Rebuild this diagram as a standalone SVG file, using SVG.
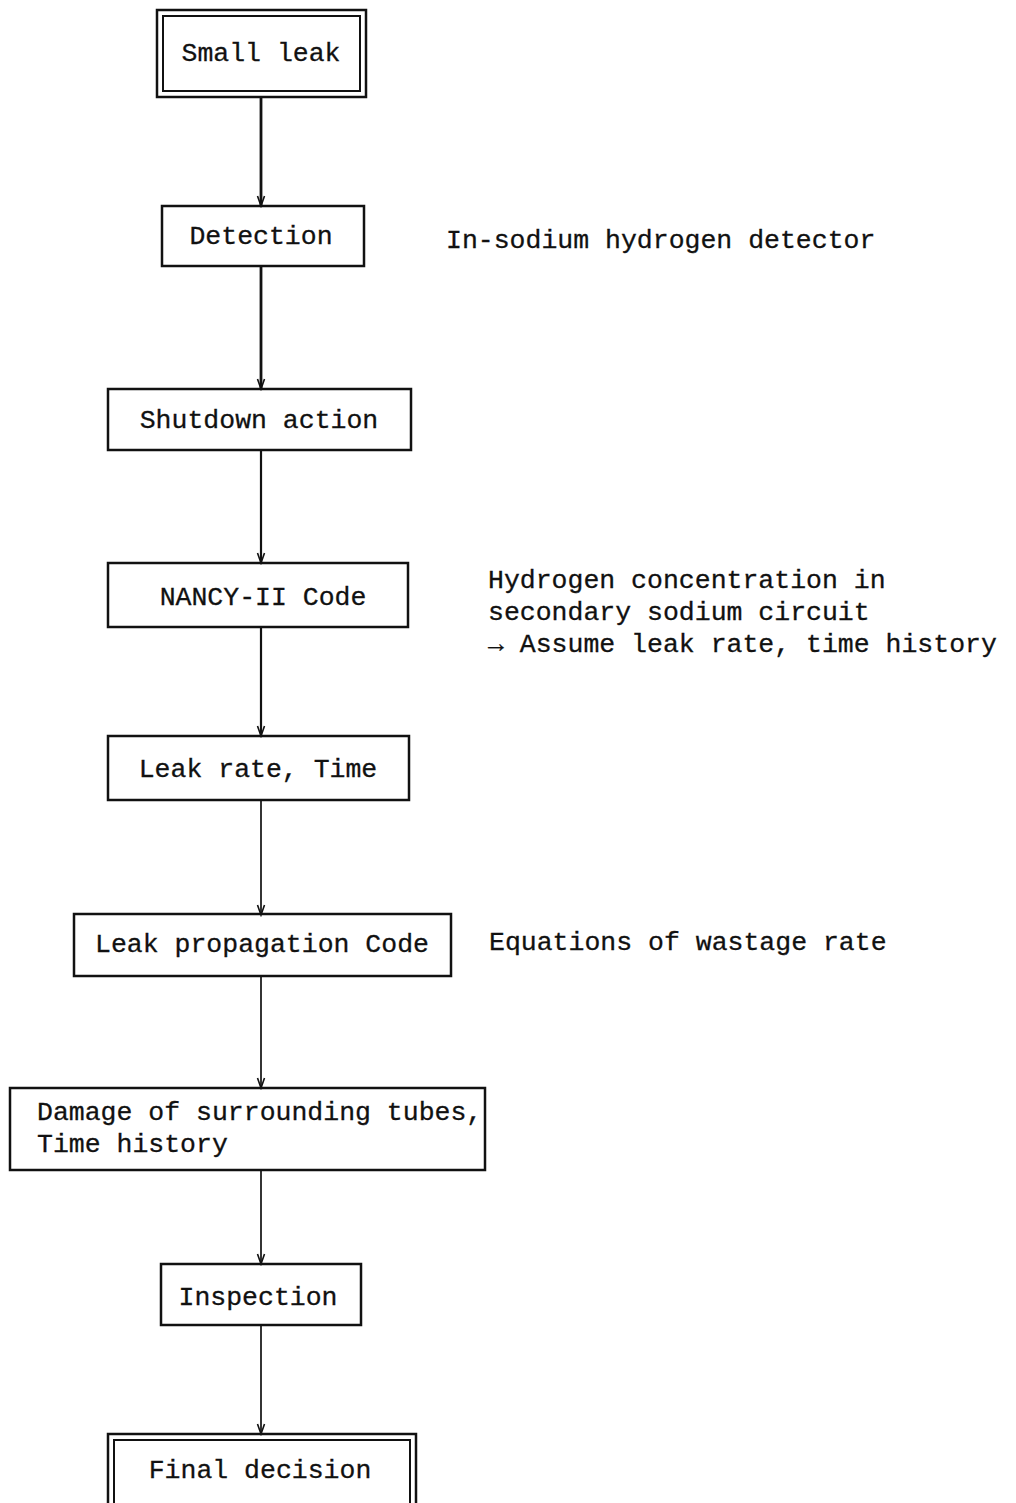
<svg xmlns="http://www.w3.org/2000/svg" width="1016" height="1503" viewBox="0 0 1016 1503">
<style>
.box{fill:none;stroke:#111;stroke-width:2.5}
.dbl{fill:none;stroke:#111;stroke-width:2}
.t{font-family:"Liberation Mono","Courier New",monospace;font-size:26.5px;fill:#111;stroke:#111;stroke-width:0.3}
.c{text-anchor:middle}
.ln{fill:none;stroke:#111}
.w1{stroke-width:2.8}
.w2{stroke-width:2.2}
.w3{stroke-width:1.7}
</style>
<defs>
<marker id="ah" markerUnits="userSpaceOnUse" markerWidth="14" markerHeight="14" refX="12" refY="7" orient="auto" viewBox="0 0 14 14">
<path d="M2,3.5 L12,7 L2,10.5" fill="none" stroke="#111" stroke-width="1.6"/>
</marker>
</defs>
<rect width="1016" height="1503" fill="#fff"/>
<g id="connectors">
<line class="ln w1" x1="261" y1="97" x2="261" y2="206" marker-end="url(#ah)"/>
<line class="ln w1" x1="261" y1="266" x2="261" y2="389" marker-end="url(#ah)"/>
<line class="ln w2" x1="261" y1="450" x2="261" y2="563" marker-end="url(#ah)"/>
<line class="ln w2" x1="261" y1="627" x2="261" y2="736" marker-end="url(#ah)"/>
<line class="ln w3" x1="261" y1="800" x2="261" y2="915" marker-end="url(#ah)"/>
<line class="ln w3" x1="261" y1="976" x2="261" y2="1088" marker-end="url(#ah)"/>
<line class="ln w3" x1="261" y1="1170" x2="261" y2="1264" marker-end="url(#ah)"/>
<line class="ln w3" x1="261" y1="1325" x2="261" y2="1434" marker-end="url(#ah)"/>
</g>
<g id="small-leak">
<rect class="box" x="157" y="10" width="209" height="87"/>
<rect class="dbl" x="163" y="16" width="197" height="75"/>
<text class="t c" x="261" y="61">Small leak</text>
</g>
<g id="detection">
<rect class="box" x="162" y="206" width="202" height="60"/>
<text class="t c" x="261" y="244">Detection</text>
</g>
<g id="note-detector">
<text class="t" x="446" y="248">In-sodium hydrogen detector</text>
</g>
<g id="shutdown">
<rect class="box" x="108" y="389" width="303" height="61"/>
<text class="t c" x="259" y="428">Shutdown action</text>
</g>
<g id="nancy">
<rect class="box" x="108" y="563" width="300" height="64"/>
<text class="t c" x="263" y="605">NANCY-II Code</text>
</g>
<g id="note-nancy">
<text class="t" x="488" y="588">Hydrogen concentration in</text>
<text class="t" x="488" y="620">secondary sodium circuit</text>
<text class="t" x="488" y="652">→ Assume leak rate, time history</text>
</g>
<g id="leak-rate">
<rect class="box" x="108" y="736" width="301" height="64"/>
<text class="t c" x="258" y="777">Leak rate, Time</text>
</g>
<g id="leak-propagation">
<rect class="box" x="74" y="914" width="377" height="62"/>
<text class="t c" x="262" y="952">Leak propagation Code</text>
</g>
<g id="note-wastage">
<text class="t" x="489" y="950">Equations of wastage rate</text>
</g>
<g id="damage">
<rect class="box" x="10" y="1088" width="475" height="82"/>
<text class="t" x="37" y="1120">Damage of surrounding tubes,</text>
<text class="t" x="37" y="1152">Time history</text>
</g>
<g id="inspection">
<rect class="box" x="161" y="1264" width="200" height="61"/>
<text class="t c" x="258" y="1305">Inspection</text>
</g>
<g id="final-decision">
<rect class="box" x="108" y="1434" width="308" height="90"/>
<rect class="dbl" x="114" y="1440" width="296" height="80"/>
<text class="t c" x="260" y="1478">Final decision</text>
</g>
</svg>
